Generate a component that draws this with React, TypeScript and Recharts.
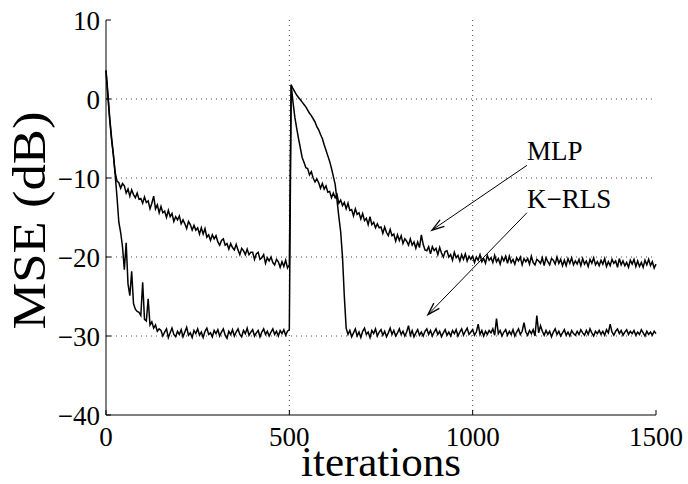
import React from "react";
import {
  LineChart,
  Line,
  XAxis,
  YAxis,
  CartesianGrid,
  ReferenceLine,
} from "recharts";

// iteration step between stored samples
const ITER_STEP = 5;

const X_TICKS = [0, 500, 1000, 1500];
const Y_TICKS = [-40, -30, -20, -10, 0, 10];

// MSE (dB) of the MLP, one value every 5 iterations (0..1500)
const MLP = [
  3.6, 0.8, -2.3, -4.8, -7.0, -9.3, -10.4, -10.6, -11.3, -10.7,
  -11.0, -11.9, -11.4, -12.3, -11.5, -12.1, -12.5, -11.9, -12.7, -12.6,
  -13.2, -12.4, -13.1, -12.9, -13.9, -13.2, -12.3, -13.9, -13.4, -14.4,
  -13.6, -14.4, -14.2, -15.0, -14.1, -14.9, -14.5, -15.5, -14.9, -15.3,
  -14.8, -15.8, -15.3, -15.8, -16.4, -15.5, -15.9, -16.6, -16.0, -16.6,
  -16.3, -17.1, -16.3, -17.1, -16.4, -17.5, -17.2, -17.9, -17.2, -17.7,
  -17.3, -18.1, -18.5, -17.9, -17.7, -18.5, -18.3, -19.0, -18.3, -18.8,
  -19.1, -18.4, -19.1, -19.7, -18.9, -19.2, -19.7, -19.0, -19.7, -19.4,
  -19.4, -20.3, -19.6, -19.4, -20.3, -20.1, -19.7, -20.8, -20.1, -20.5,
  -20.0, -20.7, -21.0, -20.3, -20.6, -21.3, -20.6, -21.2, -20.4, -21.4,
  -21.0, 1.8, -0.4, -2.3, -3.7, -5.0, -6.2, -7.4, -8.0, -8.7,
  -8.8, -9.6, -9.2, -10.0, -10.5, -10.1, -10.6, -11.3, -10.7, -11.4,
  -11.0, -11.8, -11.7, -12.5, -11.9, -12.5, -12.1, -13.2, -12.8, -13.5,
  -13.1, -13.9, -13.2, -14.1, -14.0, -14.8, -13.9, -14.6, -14.4, -15.2,
  -14.5, -15.4, -15.1, -15.9, -14.9, -15.9, -15.6, -16.3, -15.8, -16.3,
  -16.2, -17.0, -16.2, -16.9, -17.3, -16.5, -17.3, -17.1, -18.0, -17.2,
  -17.9, -17.3, -18.3, -17.7, -18.0, -18.5, -17.7, -18.5, -18.1, -18.9,
  -18.1, -18.8, -17.2, -18.4, -19.1, -19.2, -18.7, -19.6, -18.7, -19.2,
  -18.9, -19.7, -18.8, -19.5, -20.0, -19.3, -19.2, -20.0, -19.7, -20.4,
  -19.4, -20.1, -19.8, -20.5, -19.7, -20.3, -19.6, -20.5, -19.9, -20.3,
  -19.9, -20.7, -20.0, -20.4, -19.7, -20.6, -20.2, -20.8, -19.8, -20.4,
  -20.1, -20.7, -19.8, -20.6, -20.2, -20.9, -20.0, -20.5, -19.9, -20.8,
  -19.9, -20.7, -20.3, -20.9, -20.1, -20.5, -20.0, -21.0, -20.2, -20.6,
  -20.2, -20.9, -19.9, -20.7, -21.0, -20.3, -20.5, -20.8, -20.1, -21.1,
  -20.1, -20.6, -21.0, -20.2, -20.4, -20.9, -20.0, -20.8, -20.3, -21.1,
  -20.4, -21.1, -20.2, -20.8, -20.1, -21.0, -20.5, -20.9, -20.3, -21.1,
  -20.2, -20.9, -20.5, -21.2, -20.3, -20.8, -20.1, -21.0, -20.6, -21.1,
  -20.4, -20.9, -20.2, -21.2, -20.6, -21.1, -20.3, -20.8, -20.5, -21.3,
  -20.2, -21.0, -20.5, -21.1, -20.7, -21.3, -20.4, -20.9, -20.3, -21.2,
  -20.5, -21.2, -20.7, -21.3, -20.4, -21.0, -20.3, -21.1, -20.6, -21.4,
  -20.9,
];

// MSE (dB) of the K-RLS, one value every 5 iterations (0..1500)
const KRLS = [
  3.6, 0.4, -2.6, -5.1, -7.0, -9.6, -12.4, -15.6, -16.9, -18.7,
  -21.6, -18.2, -23.4, -24.9, -21.8, -25.9, -26.6, -26.9, -27.0, -27.4,
  -23.2, -27.9, -28.1, -25.3, -28.6, -28.2, -29.0, -28.6, -29.4, -29.1,
  -29.3, -30.0, -29.5, -29.1, -30.2, -29.6, -29.0, -29.8, -30.1, -29.4,
  -29.8, -29.2, -30.1, -29.5, -28.9, -29.9, -29.6, -30.2, -29.3, -29.7,
  -29.1, -29.9, -29.5, -30.2, -29.4, -29.0, -29.8, -29.6, -30.1, -29.3,
  -29.7, -29.2, -30.0, -29.5, -29.1, -29.9, -30.3, -29.4, -29.8, -29.2,
  -30.0, -29.5, -29.1, -29.8, -30.1, -29.3, -29.7, -29.0, -29.9, -29.5,
  -29.2, -30.0, -29.6, -29.3, -30.1, -29.5, -29.1, -29.8, -29.4, -30.0,
  -29.5, -29.1, -29.8, -29.4, -30.0, -29.3, -29.7, -29.2, -29.9, -29.4,
  -29.2, 1.8, 1.3, 0.9, 0.5, 0.2, -0.1, -0.4, -0.7, -1.0,
  -1.4, -1.8, -2.1, -2.5, -2.9, -3.5, -3.9, -4.5, -5.0, -5.8,
  -6.5, -7.2, -7.9, -8.8, -9.8, -10.8, -12.8, -14.9, -16.8, -20.0,
  -25.0, -29.0, -29.8, -29.3, -30.1, -29.6, -29.1, -30.0, -29.5, -30.2,
  -29.4, -29.0, -29.8, -29.5, -30.2, -29.3, -29.7, -29.1, -30.0, -29.5,
  -29.2, -29.9, -29.4, -30.1, -29.6, -29.0, -29.8, -29.3, -30.0, -29.6,
  -29.1, -29.8, -29.4, -30.0, -29.5, -28.7, -29.9, -29.3, -30.1, -29.6,
  -29.2, -29.9, -29.5, -30.0, -29.4, -29.1, -29.8, -29.3, -30.0, -29.5,
  -29.1, -29.8, -29.4, -30.1, -29.6, -29.2, -29.9, -29.5, -30.0, -29.3,
  -29.7, -29.2, -30.0, -29.5, -29.1, -29.9, -29.4, -29.0, -29.8, -29.5,
  -29.2, -29.9, -29.5, -28.5, -29.8, -29.3, -30.0, -29.4, -29.8, -29.3,
  -29.6, -29.1, -29.9, -27.8, -29.7, -29.3, -30.0, -29.5, -29.2, -29.9,
  -29.4, -29.8, -29.2, -30.0, -29.5, -29.1, -29.8, -29.4, -28.3, -29.5,
  -29.9, -29.3, -29.7, -29.2, -30.0, -27.4, -29.6, -28.7, -29.4, -29.9,
  -29.3, -29.8, -29.4, -30.1, -29.5, -29.1, -29.8, -29.4, -30.0, -29.6,
  -29.2, -29.9, -29.5, -30.0, -29.3, -29.7, -29.9, -29.4, -29.8, -29.2,
  -29.6, -29.9, -29.3, -29.8, -29.1, -29.6, -30.0, -29.4, -29.7, -29.3,
  -29.8, -29.4, -29.9, -29.2, -29.6, -28.5, -29.5, -29.9, -29.4, -29.1,
  -29.7, -29.3, -29.9, -29.5, -29.2, -29.8, -29.4, -29.7, -29.3, -29.9,
  -29.5, -29.8, -29.2, -29.6, -30.0, -29.4, -29.8, -29.5, -29.9, -29.4,
  -29.7,
];

// annotation arrows: text sits at the tail, head points at the curve
const ANNOTATIONS = [
  { text: "MLP", from: { x: 1148, y: -8.4 }, to: { x: 889, y: -16.6 } },
  { text: "K\u2212RLS", from: { x: 1148, y: -14.4 }, to: { x: 878, y: -27.3 } },
];

const FONT = '"Liberation Serif", "Times New Roman", Times, serif';

const rows = MLP.map((v, i) => ({ iter: i * ITER_STEP, mlp: v, krls: KRLS[i] }));

const fmt = (v: number) => (v < 0 ? "\u2212" + Math.abs(v) : String(v));

const Arrow = (props: any) => {
  const { x1, y1, x2, y2, text } = props;
  const ang = Math.atan2(y2 - y1, x2 - x1);
  const L = 13;
  const a = 0.3;
  const hx1 = x2 - L * Math.cos(ang - a);
  const hy1 = y2 - L * Math.sin(ang - a);
  const hx2 = x2 - L * Math.cos(ang + a);
  const hy2 = y2 - L * Math.sin(ang + a);
  return (
    <g>
      <line x1={x1} y1={y1} x2={x2} y2={y2} stroke="#000" strokeWidth={1} />
      <polyline
        points={`${hx1},${hy1} ${x2},${y2} ${hx2},${hy2}`}
        fill="none"
        stroke="#000"
        strokeWidth={1.3}
      />
      <text x={x1} y={y1 - 5} fontFamily={FONT} fontSize={27} fill="#000">
        {text}
      </text>
    </g>
  );
};

const tickStyle = { fontFamily: FONT, fontSize: 27, fill: "#000" };

export default function App() {
  return (
    <div style={{ position: "absolute", left: 0, top: 0, background: "#fff" }}>
      <LineChart
        width={688}
        height={484}
        data={rows}
        margin={{ top: 20, right: 32, left: 0, bottom: 0 }}
      >
        <CartesianGrid
          stroke="#444"
          strokeDasharray="1 4"
          horizontalValues={[-30, -20, -10, 0]}
          verticalValues={[500, 1000]}
        />
        <XAxis
          dataKey="iter"
          type="number"
          domain={[0, 1500]}
          ticks={X_TICKS}
          interval={0}
          height={69}
          tickSize={-5}
          tickMargin={17}
          stroke="#000"
          tick={tickStyle}
          tickFormatter={fmt}
          label={{
            content: (p: any) => {
              const vb = p.viewBox;
              return (
                <text
                  x={vb.x + vb.width / 2}
                  y={vb.y + 61}
                  textAnchor="middle"
                  fontFamily={FONT}
                  fontSize={43}
                  fill="#000"
                >
                  iterations
                </text>
              );
            },
          }}
        />
        <XAxis
          xAxisId="top"
          orientation="top"
          dataKey="iter"
          type="number"
          domain={[0, 1500]}
          ticks={X_TICKS}
          height={0}
          tickSize={-5}
          tick={false}
          stroke="#000"
        />
        <YAxis
          type="number"
          domain={[-40, 10]}
          ticks={Y_TICKS}
          interval={0}
          width={106}
          tickSize={-5}
          tickMargin={11}
          stroke="#000"
          tick={tickStyle}
          tickFormatter={fmt}
          label={{
            content: (p: any) => {
              const vb = p.viewBox;
              const cx = 45;
              const cy = vb.y + vb.height / 2 + 3;
              return (
                <text
                  x={cx}
                  y={cy}
                  textAnchor="middle"
                  transform={`rotate(-90, ${cx}, ${cy})`}
                  fontFamily={FONT}
                  fontSize={46}
                  textLength={218}
                  lengthAdjust="spacingAndGlyphs"
                  fill="#000"
                >
                  MSE (dB)
                </text>
              );
            },
          }}
        />
        <YAxis
          yAxisId="right"
          orientation="right"
          type="number"
          domain={[-40, 10]}
          ticks={Y_TICKS}
          width={0}
          tickSize={-5}
          tick={false}
          stroke="#000"
        />
        <Line
          dataKey="mlp"
          type="linear"
          stroke="#000"
          strokeWidth={1.5}
          dot={false}
          isAnimationActive={false}
        />
        <Line
          dataKey="krls"
          type="linear"
          stroke="#000"
          strokeWidth={1.5}
          dot={false}
          isAnimationActive={false}
        />
        {ANNOTATIONS.map((a) => (
          <ReferenceLine
            key={a.text}
            segment={[a.from, a.to]}
            ifOverflow="visible"
            shape={(p: any) => <Arrow {...p} text={a.text} />}
          />
        ))}
      </LineChart>
    </div>
  );
}
